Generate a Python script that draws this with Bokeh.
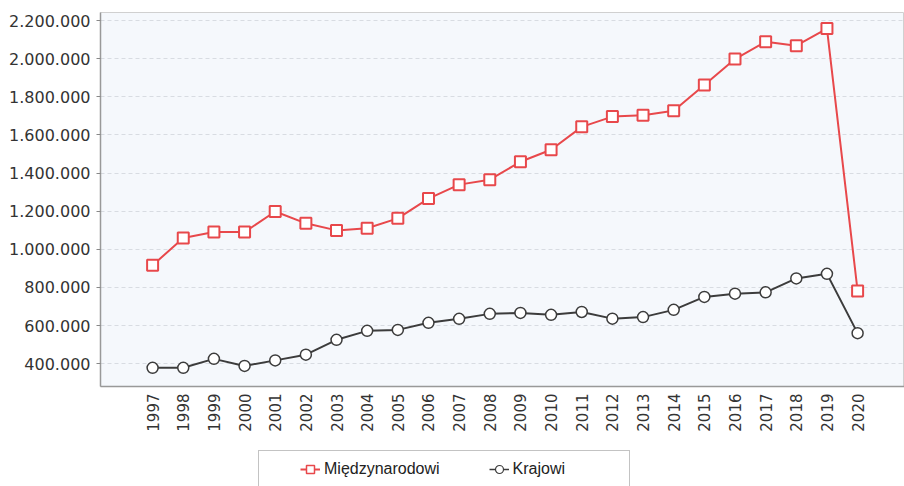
import math
from bokeh.plotting import figure
from bokeh.layouts import column
from bokeh.models import ColumnDataSource, FixedTicker, Range1d, Legend, LegendItem
from bokeh.embed import file_html
from bokeh.resources import INLINE

years = list(range(1997, 2021))
miedzynarodowi = [916000, 1059000, 1090000, 1090000, 1198000, 1136000, 1099000, 1110000,
                  1162000, 1266000, 1339000, 1365000, 1459000, 1522000, 1642000, 1696000,
                  1703000, 1727000, 1862000, 1998000, 2089000, 2068000, 2158000, 781000]
krajowi = [378000, 378000, 425000, 388000, 417000, 447000, 525000, 572000,
           577000, 614000, 635000, 661000, 666000, 656000, 671000, 636000,
           644000, 682000, 750000, 767000, 774000, 847000, 871000, 560000]
y_ticks = [400000, 600000, 800000, 1000000, 1200000, 1400000, 1600000, 1800000,
           2000000, 2200000]
series_names = ["Międzynarodowi", "Krajowi"]

RED = "#e8484b"
DARK = "#3c3c3c"
AXIS_FONT = "DejaVu Sans"
LEG_FONT = "Liberation Sans"

src = ColumnDataSource(dict(x=years, m=miedzynarodowi, k=krajowi))

p = figure(width=904, height=440, output_backend="svg", toolbar_location=None,
           x_range=Range1d(1995.30, 2021.53), y_range=Range1d(280000, 2242000),
           min_border_left=100, min_border_right=0, min_border_top=12, min_border_bottom=54)
p.background_fill_color = "#f5f8fc"
p.border_fill_color = "white"
p.outline_line_color = "#d0d0d0"
p.outline_line_width = 1

p.line("x", "m", source=src, line_color=RED, line_width=2)
p.scatter("x", "m", source=src, marker="square", size=11, fill_color="white",
          line_color=RED, line_width=2)
p.line("x", "k", source=src, line_color=DARK, line_width=2)
p.scatter("x", "k", source=src, marker="circle", size=11, fill_color="white",
          line_color=DARK, line_width=1.5)

p.xgrid.visible = False
p.ygrid.grid_line_color = "#d8dce2"
p.ygrid.grid_line_dash = "4 3"
p.ygrid.grid_line_width = 1

p.yaxis.ticker = FixedTicker(ticks=y_ticks)
p.yaxis.major_label_overrides = {t: f"{t:,}".replace(",", ".") for t in y_ticks}
p.yaxis.minor_tick_line_color = None
p.yaxis.major_tick_out = 4
p.yaxis.major_tick_in = 0
p.yaxis.major_tick_line_color = "#888888"
p.yaxis.axis_line_color = "#999999"
p.yaxis.axis_line_width = 1.5
p.yaxis.major_label_text_font = AXIS_FONT
p.yaxis.major_label_text_font_size = "16px"
p.yaxis.major_label_text_color = "#333333"
p.yaxis.major_label_standoff = 6

p.xaxis.ticker = FixedTicker(ticks=years)
p.xaxis.major_label_orientation = math.pi / 2
p.xaxis.major_tick_line_color = None
p.xaxis.major_tick_out = 0
p.xaxis.minor_tick_line_color = None
p.xaxis.axis_line_color = "#999999"
p.xaxis.axis_line_width = 1.5
p.xaxis.major_label_text_font = AXIS_FONT
p.xaxis.major_label_text_font_size = "15px"
p.xaxis.major_label_text_color = "#333333"
p.xaxis.major_label_standoff = 7

# legend strip below the chart
lf = figure(width=904, height=46, output_backend="svg", toolbar_location=None,
            x_range=Range1d(0, 1), y_range=Range1d(0, 1),
            min_border_left=0, min_border_right=0, min_border_top=0, min_border_bottom=0)
lf.axis.visible = False
lf.grid.visible = False
lf.outline_line_color = None
lf.background_fill_color = "white"
lf.border_fill_color = "white"

far = dict(x=[-5, -4], y=[-5, -4])
l1 = lf.line(x=far["x"], y=far["y"], line_color=RED, line_width=2)
s1 = lf.scatter(x=far["x"], y=far["y"], marker="square", size=9, fill_color="white",
                line_color=RED, line_width=1.5)
l2 = lf.line(x=far["x"], y=far["y"], line_color=DARK, line_width=1.5)
s2 = lf.scatter(x=far["x"], y=far["y"], marker="circle", size=9, fill_color="white",
                line_color=DARK, line_width=1.2)
sp = lf.scatter(x=far["x"], y=far["y"], marker="square", size=1, fill_alpha=0, line_alpha=0)

box = Legend(items=[LegendItem(label=" ", renderers=[sp])],
             orientation="horizontal", location=(158, -2))
box.label_text_font = LEG_FONT
box.label_text_font_size = "16px"
box.label_width = 330
box.border_line_color = "#888888"
box.border_line_width = 1
box.padding = 8
box.margin = 0
box.glyph_width = 20
box.label_standoff = 4
lf.add_layout(box, "center")

legend = Legend(items=[LegendItem(label=series_names[0], renderers=[l1, s1]),
                       LegendItem(label=series_names[1], renderers=[l2, s2])],
                orientation="horizontal", location=(200, 7))
legend.label_text_font = LEG_FONT
legend.label_text_font_size = "16px"
legend.label_text_color = "#222222"
legend.border_line_color = None
legend.background_fill_alpha = 0
legend.padding = 8
legend.margin = 0
legend.spacing = 49
legend.glyph_width = 20
legend.label_standoff = 4
lf.add_layout(legend, "center")

open("out.html", "w").write(file_html(column(p, lf, spacing=0), INLINE))
